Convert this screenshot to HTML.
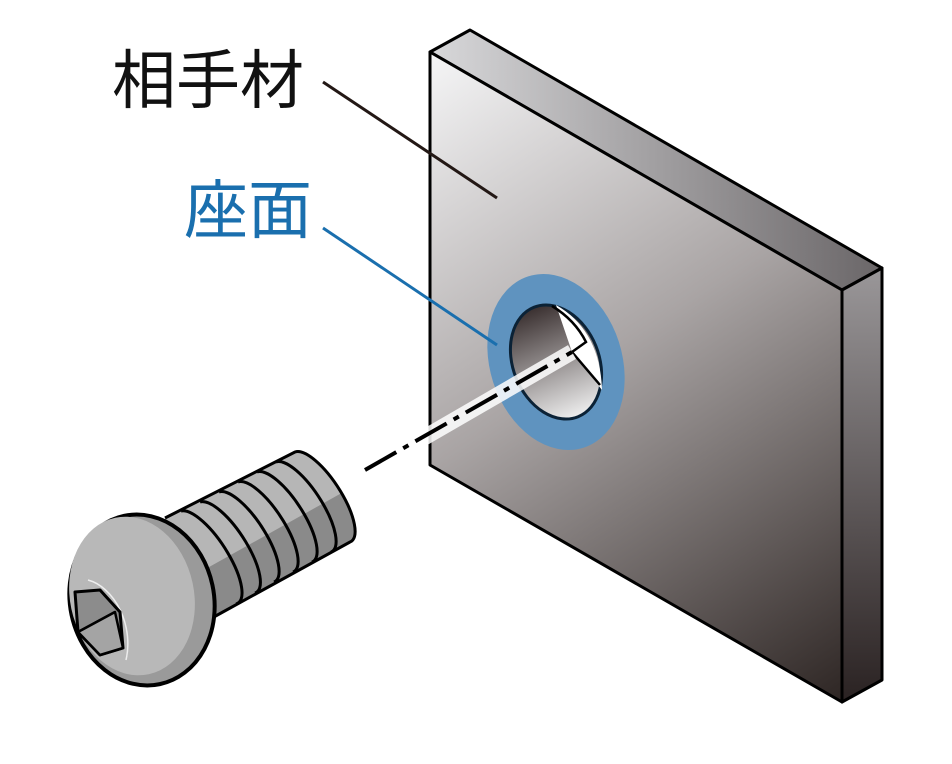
<!DOCTYPE html>
<html><head><meta charset="utf-8"><style>
html,body{margin:0;padding:0;background:#fff;width:952px;height:764px;overflow:hidden}
</style></head><body>
<svg width="952" height="764" viewBox="0 0 952 764" xmlns="http://www.w3.org/2000/svg">
<defs>
<linearGradient id="front" x1="430" y1="60" x2="842" y2="700" gradientUnits="userSpaceOnUse">
<stop offset="0" stop-color="#f4f4f5"/><stop offset="0.45" stop-color="#a9a4a4"/><stop offset="1" stop-color="#2e2624"/>
</linearGradient>
<linearGradient id="side" x1="0" y1="0" x2="0" y2="1">
<stop offset="0" stop-color="#9a9799"/><stop offset="1" stop-color="#2a2222"/>
</linearGradient>
<linearGradient id="top" x1="0" y1="0" x2="1" y2="0">
<stop offset="0" stop-color="#d8d8da"/><stop offset="1" stop-color="#6a6668"/>
</linearGradient>
<linearGradient id="hole" x1="0" y1="0" x2="0" y2="1">
<stop offset="0" stop-color="#3a3030"/><stop offset="1" stop-color="#eeeeee"/>
</linearGradient>
<clipPath id="shaftclip">
<path d="M165,518 L295,452 A52 18 57 0 1 350,542 L212,618 Z"/>
</clipPath>
</defs>
<text x="112" y="103" font-family="'Liberation Sans','Noto Sans CJK JP',sans-serif" font-size="64" fill="#111">相手材</text>
<text x="184" y="233" font-family="'Liberation Sans','Noto Sans CJK JP',sans-serif" font-size="64" fill="#1a6fae">座面</text>
<!-- plate -->
<polygon points="430,52 470,30 882,268 842,290" fill="url(#top)" stroke="#000" stroke-width="3" stroke-linejoin="round"/>
<polygon points="842,290 882,268 882,680 842,702" fill="url(#side)" stroke="#000" stroke-width="3" stroke-linejoin="round"/>
<polygon points="430,52 842,290 842,702 430,465" fill="url(#front)" stroke="#000" stroke-width="3" stroke-linejoin="round"/>
<line x1="323" y1="82" x2="497" y2="198" stroke="#231815" stroke-width="3"/>
<!-- ring -->
<ellipse cx="556" cy="362" rx="66" ry="90" transform="rotate(-18 556 362)" fill="#5f93bf"/>
<ellipse cx="556" cy="362" rx="43" ry="59" transform="rotate(-22 556 362)" fill="url(#hole)" stroke="#0b2236" stroke-width="3"/>
<path d="M556,305 Q600,330 602,390 L572,352 Z" fill="#fff"/>
<path d="M552,306 Q575,320 586,342 L572,352 L600,385" fill="none" stroke="#000" stroke-width="2.5"/>
<line x1="323" y1="228" x2="497" y2="345" stroke="#1a6fae" stroke-width="3"/>
<!-- center line -->
<line x1="420" y1="440" x2="572" y2="352" stroke="#fff" stroke-width="16" opacity="0.85"/>
<line x1="365" y1="470" x2="572" y2="352" stroke="#000" stroke-width="4" stroke-dasharray="36,8,6,8"/>
<!-- bolt shaft -->
<g clip-path="url(#shaftclip)">
<rect x="150" y="440" width="220" height="190" fill="#b6b6b6"/>
<polygon points="150,600 365,480 365,640 150,640" fill="#8a8a8a"/>
</g>
<g fill="none" stroke="#000" stroke-width="3">
<path d="M165,518 L295,452 A52 18 57 0 1 350,542 L212,618"/>
<path d="M276,462 A52 18 57 0 1 331,552"/>
<path d="M257,472 A52 18 57 0 1 312,562"/>
<path d="M238,482 A52 18 57 0 1 293,572"/>
<path d="M219,492 A52 18 57 0 1 274,582"/>
<path d="M200,502 A52 18 57 0 1 255,593"/>
<path d="M181,511 A52 18 57 0 1 236,604"/>
</g>
<!-- head -->
<ellipse cx="142" cy="600" rx="72" ry="86" transform="rotate(-12 142 600)" fill="#9a9a9a" stroke="#000" stroke-width="4"/>
<ellipse cx="132" cy="596" rx="62" ry="80" transform="rotate(-12 132 596)" fill="#b8b8b8"/>
<path d="M88,580 A42,58 -12 0 1 126,660" fill="none" stroke="#eee" stroke-width="1.5"/>
<polygon points="75,592 100,590 120,612 123,648 100,655 78,632" fill="#8c8c8c" stroke="#000" stroke-width="3" stroke-linejoin="round"/>
<path d="M78,632 L115,612 M120,612 L100,590" fill="none" stroke="#000" stroke-width="2.5"/>
<polygon points="78,632 115,612 123,648 100,655" fill="#a4a4a4" stroke="#000" stroke-width="2.5" stroke-linejoin="round"/>
</svg>
</body></html>
